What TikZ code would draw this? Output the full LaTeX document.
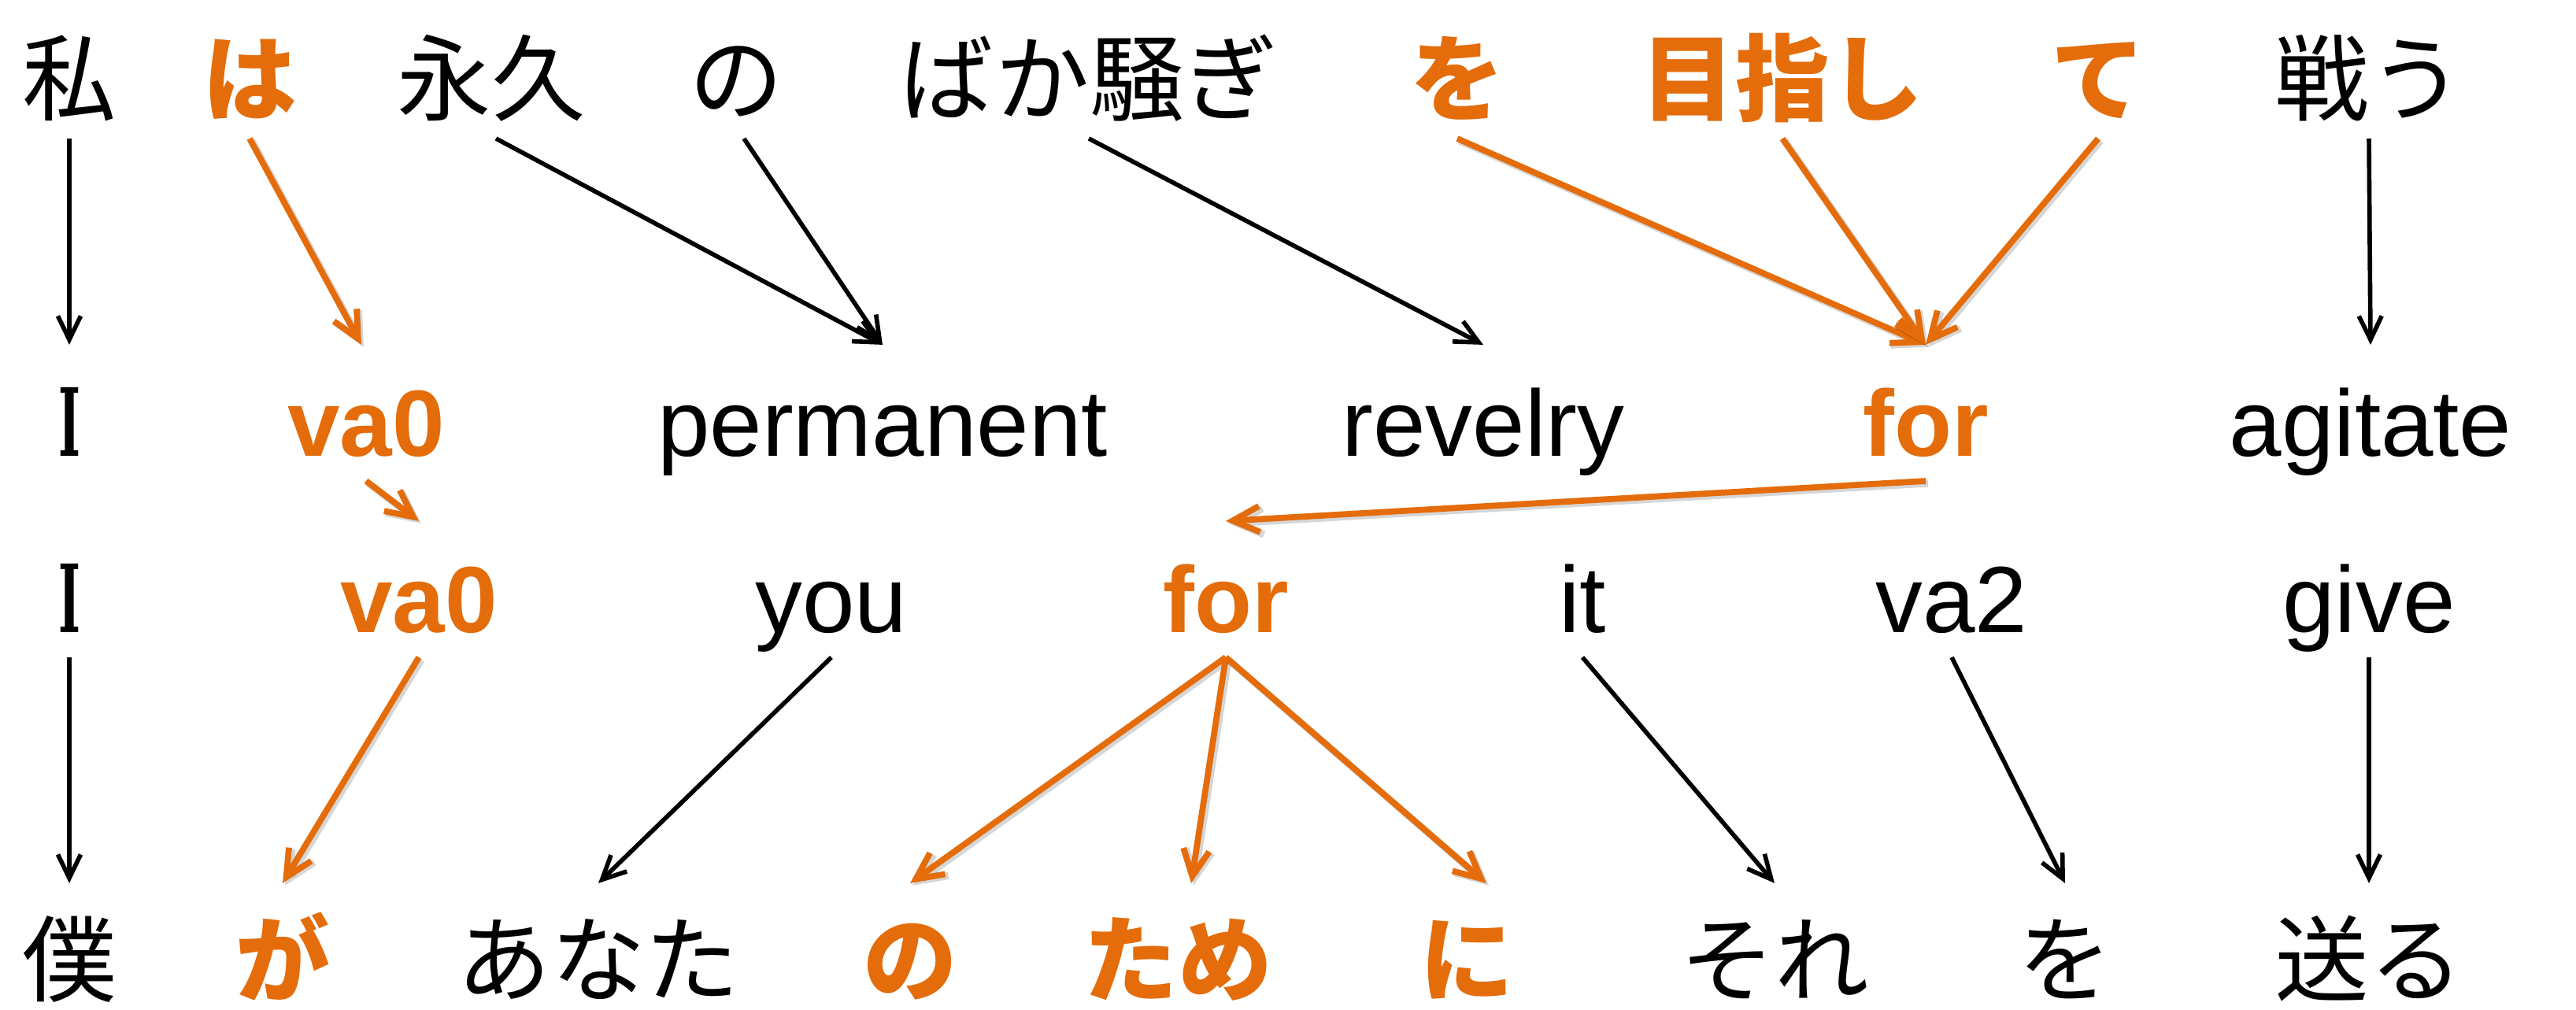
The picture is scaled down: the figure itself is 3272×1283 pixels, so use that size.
\documentclass[tikz,border=0pt]{standalone}
\usepackage{graphicx}
\usepackage{fontspec}
\setmainfont{Liberation Sans}
\newfontfamily\jp{Noto Sans CJK JP}
\newfontfamily\serI{DejaVu Serif}
\usetikzlibrary{arrows.meta}
\definecolor{orng}{RGB}{228,108,10}
\newcommand{\slabI}{\scalebox{0.5}[1]{\serI\bfseries I}}
\begin{document}
\begin{tikzpicture}[x=0.01cm,y=0.01cm,
  wd/.style={anchor=base, inner sep=0pt, outer sep=0pt, text height=1.42cm, text depth=0.31cm},
  en/.style={wd, font=\fontsize{34}{40}\selectfont},
  enb/.style={wd, text=orng, font=\fontsize{34}{40}\selectfont\bfseries},
  ja/.style={wd, font=\fontsize{34}{40}\selectfont\jp},
  jab/.style={wd, text=orng, font=\fontsize{34}{40}\selectfont\jp\bfseries},
  ser/.style={wd, font=\fontsize{34}{40}\selectfont},
  barr/.style={draw=black, line width=1.6pt, -{Straight Barb[length=0.3cm,width=0.29cm]}},
  oarr/.style={draw=orng, line width=2.2pt, -{Straight Barb[length=0.34cm,width=0.33cm]},
    preaction={draw=black, draw opacity=0.16, line width=2.6pt, transform canvas={shift={(3,-3)}}}}
]
\useasboundingbox (0,0) rectangle (3272,-1283);
% row 1
\node[ja]  (w1) at (88,-145) {私};
\node[jab] (w2) at (317,-145) {は};
\node[ja]  (w3) at (624,-145) {永久};
\node[ja]  (w4) at (935,-145) {の};
\node[ja]  (w5) at (1383,-145) {ばか騒ぎ};
\node[jab] (w6) at (1851,-145) {を};
\node[jab] (w7) at (2264,-145) {目指し};
\node[jab] (w8) at (2665,-145) {て};
\node[ja]  (w9) at (3009,-145) {戦う};
% row 2
\node[ser] (e1) at (88,-580) {\slabI};
\node[enb] (e2) at (465,-580) {va0};
\node[en]  (e3) at (1121,-580) {permanent};
\node[en]  (e4) at (1884,-580) {revelry};
\node[enb] (e5) at (2446,-580) {for};
\node[en]  (e6) at (3011,-580) {agitate};
% row 3
\node[ser] (f1) at (88,-804) {\slabI};
\node[enb] (f2) at (532,-804) {va0};
\node[en]  (f3) at (1056,-804) {you};
\node[enb] (f4) at (1557,-804) {for};
\node[en]  (f5) at (2010,-804) {it};
\node[en]  (f6) at (2479,-804) {va2};
\node[en]  (f7) at (3009,-804) {give};
% row 4
\node[ja]  (j1) at (88,-1264) {僕};
\node[jab] (j2) at (359,-1264) {が};
\node[ja]  (j3) at (760,-1264) {あなた};
\node[jab] (j4) at (1156,-1264) {の};
\node[jab] (j5) at (1496,-1264) {ため};
\node[jab] (j6) at (1863,-1264) {に};
\node[ja]  (j7) at (2254,-1264) {それ};
\node[ja]  (j8) at (2623,-1264) {を};
\node[ja]  (j9) at (3009,-1264) {送る};
% arrows row1 -> row2
\draw[barr] (w1.south) -- (e1.north);
\draw[oarr] (w2.south) -- ([xshift=-0.06cm]e2.north);
\draw[barr] ([xshift=0.06cm]w3.south) -- (e3.north);
\draw[barr] ([xshift=0.1cm]w4.south) -- (e3.north);
\draw[barr] (w5.south) -- (e4.north);
\draw[oarr] (w6.south) -- (e5.north);
\draw[oarr] (w7.south) -- (e5.north);
\draw[oarr] (w8.south) -- (e5.north);
\draw[barr] (w9.south) -- (e6.north);
% row2 -> row3
\draw[oarr] (e2.south) -- (f2.north);
\draw[oarr] (e5.south) -- (f4.north);
% row3 -> row4
\draw[barr] (f1.south) -- (j1.north);
\draw[oarr] (f2.south) -- (j2.north);
\draw[barr] (f3.south) -- (j3.north);
\draw[oarr] (f4.south) -- (j4.north);
\draw[oarr] (f4.south) -- ([xshift=0.17cm]j5.north);
\draw[oarr] (f4.south) -- ([xshift=0.25cm]j6.north);
\draw[barr] (f5.south) -- (j7.north);
\draw[barr] (f6.south) -- (j8.north);
\draw[barr] (f7.south) -- (j9.north);
\end{tikzpicture}
\end{document}
